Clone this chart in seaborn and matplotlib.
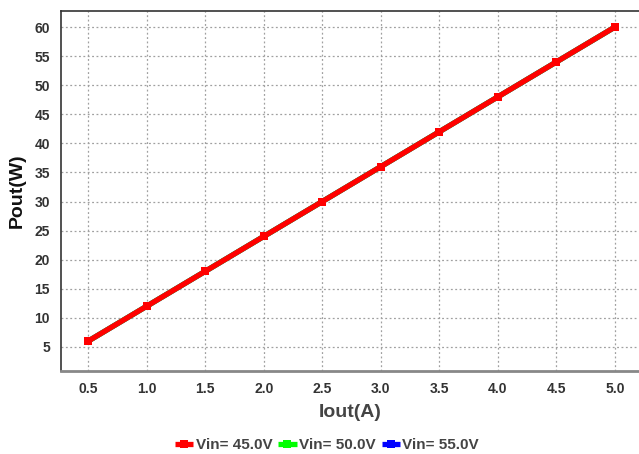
import matplotlib
matplotlib.use("Agg")
import matplotlib.pyplot as plt
import seaborn as sns
import pandas as pd

iout = [0.5, 1.0, 1.5, 2.0, 2.5, 3.0, 3.5, 4.0, 4.5, 5.0]
pout_45 = [6, 12, 18, 24, 30, 36, 42, 48, 54, 60]
pout_50 = [6, 12, 18, 24, 30, 36, 42, 48, 54, 60]
pout_55 = [6, 12, 18, 24, 30, 36, 42, 48, 54, 60]
series_labels = ["Vin= 45.0V", "Vin= 50.0V", "Vin= 55.0V"]
series_colors = ["#ff0000", "#00ff00", "#0000ff"]
x_ticks = [0.5, 1.0, 1.5, 2.0, 2.5, 3.0, 3.5, 4.0, 4.5, 5.0]
y_ticks = [5, 10, 15, 20, 25, 30, 35, 40, 45, 50, 55, 60]

sns.set_theme(style="white")
plt.rcParams['font.family'] = ['Liberation Sans', 'DejaVu Sans']
plt.rcParams['lines.solid_capstyle'] = 'butt'

fig = plt.figure(figsize=(6.39, 4.54), dpi=100)
ax = fig.add_axes([61/639, 1-371/454, 1-61/639, (371-11)/454])

values = [pout_45, pout_50, pout_55]
for i in [2, 1, 0]:
    df = pd.DataFrame({"Iout": iout, "Pout": values[i]})
    sns.lineplot(data=df, x="Iout", y="Pout", ax=ax, color=series_colors[i],
                 linewidth=3.8, marker="s", markersize=5.5, markeredgewidth=0,
                 label=series_labels[i])

ax.set_xlim(0.269, 5.205)
ax.set_ylim(0.875, 62.75)
ax.set_xticks(x_ticks)
ax.set_xticklabels([f"{v:.1f}" for v in x_ticks])
ax.set_yticks(y_ticks)
ax.tick_params(axis="both", length=0, labelsize=10, labelcolor="#333333", pad=8)
for lbl in ax.get_xticklabels() + ax.get_yticklabels():
    lbl.set_fontweight("bold")
ax.grid(True, color="#a0a0a0", linestyle=(0, (1.5, 2)), linewidth=0.9)

ax.set_xlabel("Iout(A)", fontsize=14, fontweight="bold", color="#444444", labelpad=6)
ax.set_ylabel("Pout(W)", fontsize=14, fontweight="bold", color="#111111", labelpad=6)

for side in ["left", "top"]:
    ax.spines[side].set_color("#333333")
    ax.spines[side].set_linewidth(1.2)
ax.spines["bottom"].set_color("#888888")
ax.spines["bottom"].set_linewidth(2)
ax.spines["right"].set_visible(False)

h, l = ax.get_legend_handles_labels()
order = [l.index(s) for s in series_labels]
ax.legend([h[k] for k in order], [l[k] for k in order], loc="lower center",
          bbox_to_anchor=(0.46, -0.255), ncol=3, frameon=False,
          handlelength=1.2, handletextpad=0.15, columnspacing=0.4,
          prop={"weight": "bold", "size": 11}, labelcolor="#444444",
          borderpad=0.2)

fig.savefig("out.png", dpi=100)
